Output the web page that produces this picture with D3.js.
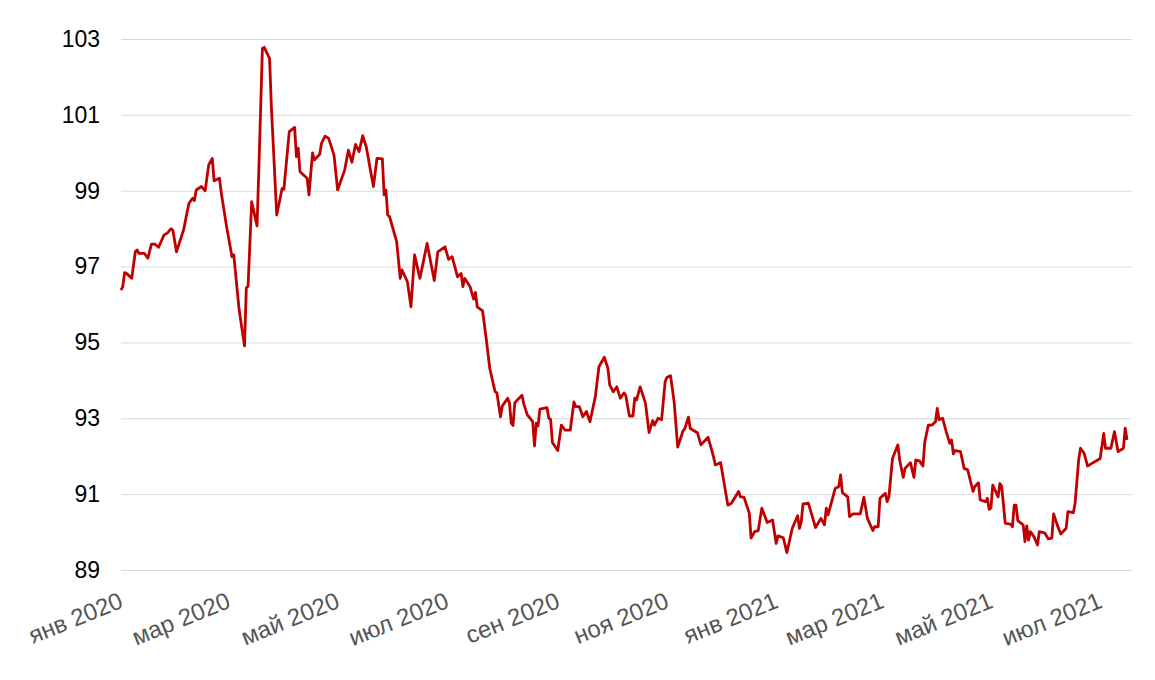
<!DOCTYPE html>
<html>
<head>
<meta charset="utf-8">
<script src="https://cdn.jsdelivr.net/npm/d3@7"></script>
<style>
  html, body { margin: 0; padding: 0; background: #ffffff; }
  svg { display: block; }
</style>
</head>
<body>
<svg id="chart" width="1155" height="680"></svg>
<script>
// ---- data ----
const dates = [
"2020-01-01","2020-01-02","2020-01-03","2020-01-04","2020-01-07","2020-01-09","2020-01-10","2020-01-11","2020-01-14","2020-01-16",
"2020-01-18","2020-01-20","2020-01-22","2020-01-25","2020-01-27","2020-01-29","2020-01-30","2020-02-01","2020-02-05","2020-02-07",
"2020-02-08","2020-02-10","2020-02-11","2020-02-12","2020-02-15","2020-02-17","2020-02-19","2020-02-21","2020-02-22","2020-02-25",
"2020-02-26","2020-02-29","2020-03-03","2020-03-04","2020-03-07","2020-03-10","2020-03-11","2020-03-12","2020-03-14","2020-03-17",
"2020-03-18","2020-03-20","2020-03-21","2020-03-24","2020-03-25","2020-03-28","2020-03-31","2020-04-01","2020-04-04","2020-04-07",
"2020-04-08","2020-04-09","2020-04-10","2020-04-14","2020-04-15","2020-04-17","2020-04-18","2020-04-21","2020-04-22","2020-04-24",
"2020-04-26","2020-04-29","2020-05-01","2020-05-05","2020-05-07","2020-05-09","2020-05-11","2020-05-13","2020-05-15","2020-05-17",
"2020-05-21","2020-05-23","2020-05-26","2020-05-27","2020-05-28","2020-05-29","2020-05-30","2020-06-03","2020-06-05","2020-06-06",
"2020-06-09","2020-06-11","2020-06-13","2020-06-16","2020-06-20","2020-06-24","2020-06-26","2020-06-30","2020-07-02","2020-07-04",
"2020-07-07","2020-07-09","2020-07-10","2020-07-11","2020-07-14","2020-07-16","2020-07-17","2020-07-18","2020-07-21","2020-07-23",
"2020-07-25","2020-07-28","2020-07-29","2020-07-31","2020-08-01","2020-08-04","2020-08-05","2020-08-06","2020-08-07","2020-08-08",
"2020-08-12","2020-08-13","2020-08-15","2020-08-18","2020-08-19","2020-08-20","2020-08-21","2020-08-22","2020-08-26","2020-08-27",
"2020-08-28","2020-08-29","2020-09-01","2020-09-03","2020-09-05","2020-09-08","2020-09-10","2020-09-11","2020-09-13","2020-09-15",
"2020-09-17","2020-09-19","2020-09-22","2020-09-24","2020-09-27","2020-09-29","2020-09-30","2020-10-02","2020-10-04","2020-10-05",
"2020-10-06","2020-10-08","2020-10-09","2020-10-11","2020-10-13","2020-10-14","2020-10-15","2020-10-17","2020-10-20","2020-10-22",
"2020-10-24","2020-10-25","2020-10-27","2020-10-29","2020-10-31","2020-11-01","2020-11-03","2020-11-05","2020-11-07","2020-11-10",
"2020-11-11","2020-11-13","2020-11-14","2020-11-18","2020-11-20","2020-11-24","2020-11-27","2020-11-28","2020-12-01","2020-12-05",
"2020-12-07","2020-12-11","2020-12-12","2020-12-14","2020-12-17","2020-12-18","2020-12-20","2020-12-22","2020-12-24","2020-12-27",
"2020-12-30","2021-01-01","2021-01-02","2021-01-05","2021-01-07","2021-01-10","2021-01-13","2021-01-14","2021-01-15","2021-01-16",
"2021-01-19","2021-01-23","2021-01-26","2021-01-28","2021-01-29","2021-01-30","2021-02-03","2021-02-05","2021-02-06","2021-02-07",
"2021-02-10","2021-02-11","2021-02-13","2021-02-17","2021-02-19","2021-02-21","2021-02-24","2021-02-25","2021-02-27","2021-02-28",
"2021-03-03","2021-03-04","2021-03-05","2021-03-07","2021-03-10","2021-03-11","2021-03-13","2021-03-14","2021-03-17","2021-03-19",
"2021-03-20","2021-03-22","2021-03-24","2021-03-25","2021-03-27","2021-03-29","2021-03-31","2021-04-01","2021-04-02","2021-04-04",
"2021-04-06","2021-04-08","2021-04-09","2021-04-10","2021-04-11","2021-04-14","2021-04-16","2021-04-18","2021-04-21","2021-04-22",
"2021-04-24","2021-04-25","2021-04-28","2021-04-29","2021-04-30","2021-05-01","2021-05-02","2021-05-05","2021-05-06","2021-05-07",
"2021-05-09","2021-05-12","2021-05-13","2021-05-14","2021-05-15","2021-05-16","2021-05-19","2021-05-20","2021-05-21","2021-05-22",
"2021-05-23","2021-05-25","2021-05-27","2021-05-28","2021-05-31","2021-06-02","2021-06-04","2021-06-05","2021-06-07","2021-06-09",
"2021-06-11","2021-06-12","2021-06-13","2021-06-16","2021-06-17","2021-06-19","2021-06-20","2021-06-22","2021-06-24","2021-06-27",
"2021-06-29","2021-07-01","2021-07-03","2021-07-04","2021-07-07","2021-07-09","2021-07-11","2021-07-14","2021-07-15","2021-07-16"
];
const values = [
96.38,96.47,96.84,96.82,96.69,97.39,97.44,97.35,97.35,97.22,
97.59,97.59,97.51,97.83,97.89,98.00,97.95,97.39,97.97,98.45,
98.67,98.80,98.74,99.02,99.11,99.00,99.68,99.85,99.26,99.33,
98.95,98.05,97.26,97.31,95.86,94.91,96.43,96.49,98.71,98.07,
99.55,102.75,102.78,102.49,101.22,98.36,99.06,99.04,100.56,100.67,
99.90,100.12,99.50,99.33,98.89,100.00,99.81,99.96,100.25,100.44,
100.38,99.94,99.02,99.55,100.07,99.75,100.22,100.03,100.45,100.16,
99.11,99.85,99.84,98.89,99.02,98.36,98.32,97.66,96.69,96.91,
96.60,95.94,97.31,96.69,97.61,96.63,97.39,97.52,97.19,97.26,
96.73,96.82,96.47,96.69,96.47,96.14,96.32,95.94,95.83,95.11,
94.32,93.70,93.67,93.04,93.32,93.53,93.41,92.87,92.81,93.41,
93.61,93.38,93.09,92.91,92.27,92.87,92.80,93.24,93.28,93.00,
92.97,92.36,92.15,92.82,92.69,92.69,93.43,93.31,93.31,93.04,
93.18,92.91,93.57,94.36,94.61,94.32,93.88,93.70,93.83,93.67,
93.53,93.67,93.60,93.06,93.06,93.53,93.48,93.83,93.40,92.62,
92.94,92.82,93.00,92.96,93.97,94.08,94.12,93.44,92.24,92.67,
92.73,93.03,92.73,92.62,92.30,92.50,91.99,91.77,91.83,90.71,
90.76,91.07,90.93,90.92,90.50,89.84,90.01,90.04,90.63,90.25,
90.32,89.70,89.90,89.85,89.46,90.10,90.43,90.10,90.27,90.74,
90.76,90.12,90.36,90.19,90.63,90.45,91.15,91.20,91.51,91.04,
90.93,90.41,90.48,90.48,90.92,90.36,90.04,90.14,90.14,90.89,
91.02,90.80,90.93,91.94,92.30,91.90,91.44,91.68,91.83,91.44,
91.90,91.88,91.74,92.36,92.82,92.82,92.91,93.26,92.96,93.00,
92.65,92.34,92.43,92.06,92.15,92.12,91.68,91.64,91.07,91.20,
91.30,90.85,90.80,90.89,90.60,90.63,91.24,90.93,91.28,91.20,
90.23,90.21,90.14,90.71,90.71,90.30,90.19,89.75,90.16,89.79,
90.01,89.88,89.66,90.01,89.98,89.82,89.84,90.48,90.19,89.95,
90.05,90.10,90.54,90.51,90.76,91.90,92.21,92.08,91.74,91.83,
91.88,91.94,92.60,92.21,92.21,92.65,92.12,92.21,92.74,92.43
];
const yTicks = [89, 91, 93, 95, 97, 99, 101, 103];
const monthNames = ["янв","фев","мар","апр","май","июн","июл","авг","сен","окт","ноя","дек"];
const xTickDates = ["2020-01-01","2020-03-01","2020-05-01","2020-07-01","2020-09-01","2020-11-01",
                    "2021-01-01","2021-03-01","2021-05-01","2021-07-01"];

// ---- drawing ----
const parse = d3.timeParse("%Y-%m-%d");
const data = dates.map((d, i) => ({ date: parse(d), value: values[i] }));

const svg = d3.select("#chart");
const plotLeft = 121, plotRight = 1127, gridRight = 1132, plotTop = 39, plotBottom = 570;

const x = d3.scaleTime()
  .domain([parse("2020-01-01"), parse("2021-07-16")])
  .range([plotLeft, plotRight]);
const y = d3.scaleLinear().domain([89, 103]).range([plotBottom, plotTop]);

// grid lines + y labels
const yAxis = d3.axisLeft(y).tickValues(yTicks).tickSize(-(gridRight - plotLeft)).tickPadding(21).tickFormat(d3.format("d"));
const gy = svg.append("g").attr("transform", `translate(${plotLeft},0)`).call(yAxis);
gy.select(".domain").remove();
gy.selectAll(".tick line").attr("stroke", "#d9d9d9").attr("stroke-width", 1);
gy.selectAll(".tick text")
  .attr("fill", "#000")
  .style("font-family", "'Liberation Sans', Arial, Helvetica, sans-serif")
  .style("font-size", "23px");

// x axis labels
const xAxis = d3.axisBottom(x)
  .tickValues(xTickDates.map(parse))
  .tickSize(0)
  .tickFormat(d => monthNames[d.getMonth()] + " " + d.getFullYear());
const gx = svg.append("g").attr("transform", `translate(0,${plotBottom})`).call(xAxis);
gx.select(".domain").remove();
gx.selectAll(".tick text")
  .attr("fill", "#555555")
  .style("font-family", "'Liberation Sans', Arial, Helvetica, sans-serif")
  .style("font-size", "24px")
  .attr("text-anchor", "end")
  .attr("dy", null)
  .attr("y", 0)
  .attr("transform", "translate(3,37) rotate(-22)");

// line
const line = d3.line().x(d => x(d.date)).y(d => y(d.value));
svg.append("path")
  .datum(data)
  .attr("fill", "none")
  .attr("stroke", "#c00000")
  .attr("stroke-width", 2.8)
  .attr("stroke-linejoin", "round")
  .attr("d", line);
</script>
</body>
</html>
